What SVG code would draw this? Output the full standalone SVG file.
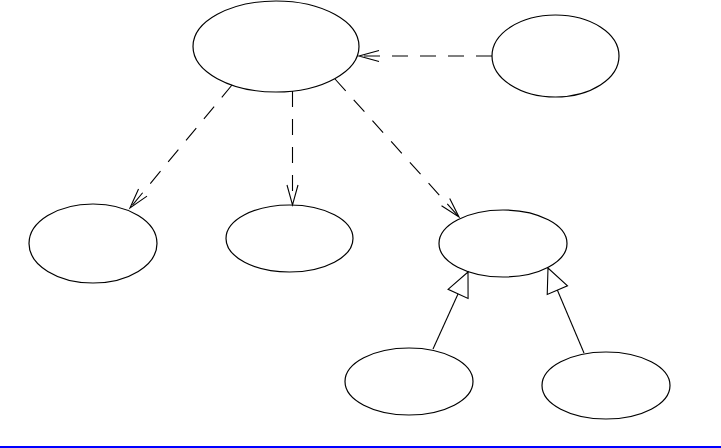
<svg xmlns="http://www.w3.org/2000/svg" width="721" height="448" viewBox="0 0 721 448">
<style>
.node{fill:#fff;stroke:#000;stroke-width:1.2}
.dep{fill:none;stroke:#000;stroke-width:1.1;stroke-dasharray:16 12;marker-end:url(#open)}
.gen{fill:none;stroke:#000;stroke-width:1.1;marker-end:url(#tri)}
</style>
<defs>
<marker id="open" markerUnits="userSpaceOnUse" markerWidth="22" markerHeight="14" viewBox="0 0 22 14" refX="21" refY="7" orient="auto" overflow="visible">
<path d="M1,1.5 L21,7 L1,12.5" fill="none" stroke="#000" stroke-width="1.1"/>
</marker>
<marker id="tri" markerUnits="userSpaceOnUse" markerWidth="26" markerHeight="24" viewBox="0 0 26 24" refX="25" refY="12" orient="auto" overflow="visible">
<path d="M1,1 L25,12 L1,23 Z" fill="#fff" stroke="#000" stroke-width="1.1"/>
</marker>
</defs>
<rect width="721" height="448" fill="#fff"/>
<g id="n1"><ellipse class="node" cx="276" cy="46.5" rx="83" ry="45.5"/></g>
<g id="n2"><ellipse class="node" cx="555.5" cy="56" rx="63.5" ry="41"/></g>
<g id="n3"><ellipse class="node" cx="93" cy="243.5" rx="64" ry="39.5"/></g>
<g id="n4"><ellipse class="node" cx="289.5" cy="238.5" rx="63.5" ry="33.5"/></g>
<g id="n5"><ellipse class="node" cx="503" cy="243.5" rx="64" ry="33.5"/></g>
<g id="n6"><ellipse class="node" cx="409" cy="381.5" rx="64" ry="33.5"/></g>
<g id="n7"><ellipse class="node" cx="606" cy="385.5" rx="64" ry="33.5"/></g>
<g id="connectors">
<path class="dep" d="M492,56 L359,56"/>
<path class="dep" d="M232,85 L130,208"/>
<path class="dep" d="M292.5,91 L292.5,205"/>
<path class="dep" d="M335,79 L459,217"/>
<path class="gen" d="M433,349 L468,272"/>
<path class="gen" d="M584,353 L548,268"/>
</g>
<rect x="0" y="446" width="721" height="2" fill="#0000ff"/>
</svg>
